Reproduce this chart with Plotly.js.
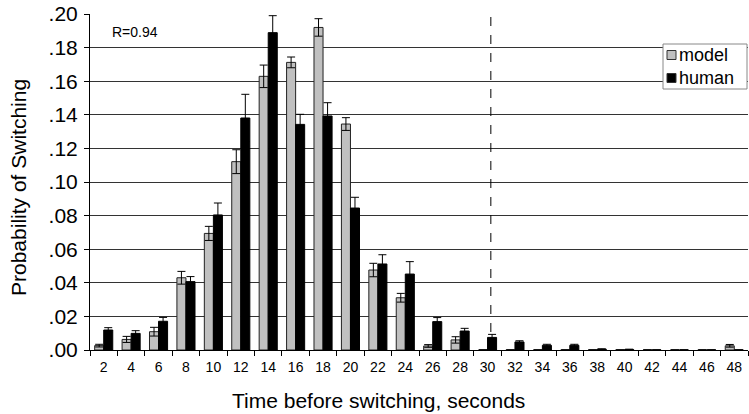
<!DOCTYPE html>
<html>
<head>
<meta charset="utf-8">
<script src="https://cdn.plot.ly/plotly-3.0.1.min.js"></script>
<style>html,body{margin:0;padding:0;background:#fff;}#chart{width:749px;height:414px;}</style>
</head>
<body>
<div id="chart"></div>
<script>
const categories = ['2','4','6','8','10','12','14','16','18','20','22','24','26','28','30','32','34','36','38','40','42','44','46','48'];
const modelValues = [0.0026,0.0063,0.0109,0.0430,0.0694,0.1121,0.1629,0.1712,0.1920,0.1345,0.0476,0.0311,0.0024,0.0060,0,0,0,0,0,0,0,0,0,0.0025];
const modelErrors = [0.0008,0.0018,0.0026,0.0038,0.0042,0.0071,0.0067,0.0032,0.0052,0.0038,0.0040,0.0026,0.0008,0.0019,0,0,0,0,0,0,0,0,0,0.0008];
const humanValues = [0.0119,0.0099,0.0171,0.0407,0.0804,0.1381,0.1889,0.1343,0.1393,0.0845,0.0512,0.0452,0.0169,0.0113,0.0075,0.0048,0.0028,0.0028,0.0005,0.0003,0,0,0,0];
const humanErrors = [0.0014,0.0016,0.0023,0.0030,0.0071,0.0141,0.0101,0.0060,0.0079,0.0064,0.0055,0.0074,0.0024,0.0016,0.0018,0.0007,0.0006,0.0006,0.0002,0.0002,0,0,0,0];
const seriesNames = ['model', 'human'];
const seriesColors = ['#c0c0c0', '#000000'];
const yTickVals = [0,0.02,0.04,0.06,0.08,0.10,0.12,0.14,0.16,0.18,0.20];
const yTickText = ['.00','.02','.04','.06','.08','.10','.12','.14','.16','.18','.20'];
const xTitle = 'Time before switching, seconds';
const yTitle = 'Probability of Switching';
const dashedAt = '30';

const font = 'Liberation Sans, Arial, Helvetica, sans-serif';

const traces = [
  {
    type: 'bar', name: seriesNames[0], x: categories, y: modelValues,
    marker: {color: seriesColors[0], line: {color: '#222', width: 1}},
    error_y: {type: 'data', array: modelErrors, symmetric: true, color: '#000', thickness: 1, width: 4}
  },
  {
    type: 'bar', name: seriesNames[1], x: categories, y: humanValues,
    marker: {color: seriesColors[1], line: {color: '#000', width: 1}},
    error_y: {type: 'data', array: humanErrors, symmetric: true, color: '#000', thickness: 1, width: 4}
  }
];

// plot area is 658 x 336 px starting at (90, 14)
const W = 658, H = 336;
const px = v => (v - 90) / W, py = v => 1 - (v - 14) / H;
const shapes = [
  {type: 'line', xref: 'x', yref: 'paper',
   x0: categories.indexOf(dashedAt) + 0.12, x1: categories.indexOf(dashedAt) + 0.12, y0: 0, y1: 1,
   line: {color: '#000', width: 1, dash: 'dash'}},
  {type: 'rect', xref: 'paper', yref: 'paper', x0: px(663), x1: px(747), y0: py(89), y1: py(44),
   fillcolor: '#fff', line: {color: '#888', width: 1}, layer: 'above'}
];
const annotations = [
  {xref: 'paper', yref: 'paper', x: px(110), y: py(32), xanchor: 'left', yanchor: 'middle',
   text: 'R=0.94', showarrow: false, font: {family: font, size: 14, color: '#000'}},
  {xref: 'paper', yref: 'paper', x: px(378), y: py(400), xanchor: 'center', yanchor: 'middle',
   text: xTitle, showarrow: false, font: {family: font, size: 21, color: '#000'}},
  {xref: 'paper', yref: 'paper', x: px(18), y: py(188), xanchor: 'center', yanchor: 'middle',
   text: yTitle, textangle: -90, showarrow: false, font: {family: font, size: 21, color: '#000'}}
];
seriesNames.forEach((name, i) => {
  const cy = 55 + i * 23;
  shapes.push({type: 'rect', xref: 'paper', yref: 'paper',
    x0: px(667), x1: px(676), y0: py(cy + 4.5), y1: py(cy - 4.5),
    fillcolor: seriesColors[i], line: {color: '#333', width: 1}, layer: 'above'});
  annotations.push({xref: 'paper', yref: 'paper', x: px(677), y: py(cy), xanchor: 'left', yanchor: 'middle',
    text: name, showarrow: false, font: {family: font, size: 18, color: '#000'}});
});

const layout = {
  width: 749, height: 414,
  margin: {l: 90, r: 1, t: 14, b: 64},
  paper_bgcolor: '#fff', plot_bgcolor: '#fff',
  font: {family: font, color: '#000', size: 13},
  barmode: 'group', bargap: 0.34, bargroupgap: 0,
  showlegend: false,
  xaxis: {
    type: 'category', tickson: 'boundaries',
    showline: true, linecolor: '#000', linewidth: 1,
    ticks: 'outside', ticklen: 5, tickcolor: '#000',
    tickfont: {family: font, size: 14}, ticklabelstandoff: 4,
    showgrid: false, zeroline: false
  },
  yaxis: {
    range: [0, 0.2],
    tickmode: 'array', tickvals: yTickVals, ticktext: yTickText,
    showline: true, linecolor: '#000', linewidth: 1,
    ticks: 'outside', ticklen: 5, tickcolor: '#000',
    tickfont: {family: font, size: 21}, ticklabelstandoff: 2,
    showgrid: true, gridcolor: '#333', gridwidth: 1, zeroline: false
  },
  shapes: shapes,
  annotations: annotations
};

Plotly.newPlot('chart', traces, layout, {displayModeBar: false, staticPlot: true});
</script>
</body>
</html>
